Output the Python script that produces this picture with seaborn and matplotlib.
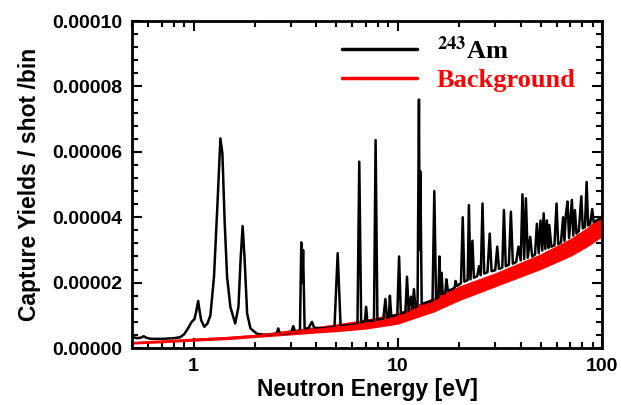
import numpy as np
import pandas as pd
import matplotlib
matplotlib.use('Agg')
import matplotlib.pyplot as plt
import seaborn as sns
from matplotlib.lines import Line2D
from matplotlib.ticker import MultipleLocator, FormatStrFormatter, LogLocator, NullFormatter, FixedLocator

# -=-=-=-=-=- 243Am capture yield (yield in units of 1e-6) -=-=-=-=-=-

am_energy = [
    0.50, 0.53, 0.555, 0.57, 0.59, 0.62, 0.70, 0.80, 0.86, 0.90, 0.94, 0.975, 0.99, 1.01,
    1.03, 1.054, 1.07, 1.09, 1.13, 1.17, 1.21, 1.26, 1.31, 1.354, 1.385, 1.42, 1.46, 1.515,
    1.60, 1.66, 1.70, 1.74, 1.78, 1.83, 1.90, 2.05, 2.3, 2.55, 2.6, 2.65, 3.0, 3.08, 3.15,
    3.32, 3.37, 3.41, 3.44, 3.50, 3.65, 3.8, 3.9, 4.3, 4.9, 5.08, 5.25, 5.8, 6.35, 6.48,
    6.62, 6.9, 7.0, 7.1, 7.65, 7.79, 7.95, 8.5, 8.7, 8.85, 9.05, 9.15, 9.3, 9.95, 10.15,
    10.35, 10.9, 11.1, 11.3, 11.6, 11.8, 12.0, 12.2, 12.5, 12.7, 12.8, 12.9, 13.1, 14.0,
    14.8, 15.1, 15.4, 15.8, 16.0, 16.2, 16.4, 16.6, 17.1, 17.3, 17.6, 18.5, 19.0, 19.2,
    19.5, 20.4, 20.8, 21.2, 22.0, 22.3, 22.7, 23.2, 23.6, 24.5, 25.0, 25.5, 26.0, 26.5,
    27.5, 28.2, 28.8, 30.0, 30.7, 31.3, 32.5, 33.1, 33.8, 35.0, 35.8, 36.6, 38.0, 39.0,
    40.0, 40.8, 41.6, 42.4, 43.3, 44.5, 45.5, 47.0, 48.0, 49.0, 50.0, 51.0, 51.8, 52.8,
    53.7, 54.7, 55.2, 56.5, 58.5, 59.9, 61.0, 63.0, 64.5, 65.5, 66.5, 67.8, 69.0, 71.2,
    72.3, 73.7, 75.0, 77.0, 79.2, 80.5, 82.5, 84.1, 85.5, 87.5, 89.6, 91.0, 95.0, 100.0,
]
am_yield = [
    3.4, 3.0, 3.2, 3.6, 3.1, 2.8, 2.8, 3.0, 3.3, 4.2, 6.0, 7.8, 8.3, 8.8,
    11.0, 14.4, 11.5, 8.5, 6.5, 7.5, 10.0, 21.8, 44.0, 64.1, 59.5, 39.0, 21.8, 12.6,
    7.5, 12.6, 27.0, 37.3, 27.0, 10.6, 6.0, 4.3, 4.0, 4.4, 6.0, 4.4, 4.6, 6.7, 4.8,
    5.2, 32.3, 20.0, 30.0, 6.0, 6.0, 8.0, 6.2, 6.0, 6.4, 29.0, 6.8, 7.0, 7.3, 57.0,
    7.8, 8.2, 12.6, 8.2, 8.4, 63.6, 8.6, 9.0, 15.0, 9.3, 9.5, 16.0, 9.6, 10.2, 28.0,
    10.6, 11.0, 21.8, 11.4, 15.7, 12.0, 18.0, 12.4, 13.0, 76.0, 30.0, 54.0, 13.5, 14.0,
    14.5, 48.0, 15.0, 15.5, 28.0, 16.5, 23.0, 16.5, 17.0, 21.0, 17.5, 18.0, 18.5, 20.5,
    19.0, 19.8, 40.0, 20.3, 20.8, 43.7, 21.0, 32.8, 21.5, 22.0, 25.0, 22.3, 44.2, 22.8,
    23.2, 35.0, 23.5, 23.8, 31.0, 24.2, 24.6, 42.2, 25.0, 25.5, 41.7, 25.8, 26.3, 31.0,
    26.8, 47.0, 27.2, 45.8, 27.6, 34.0, 28.0, 28.6, 38.0, 29.0, 39.0, 29.8, 41.2, 30.3,
    39.0, 30.6, 37.6, 31.0, 31.4, 44.2, 31.8, 32.4, 40.0, 32.8, 40.7, 44.8, 33.6, 45.3,
    34.4, 42.2, 35.0, 35.8, 46.4, 36.6, 37.0, 50.8, 37.5, 38.0, 42.5, 38.5, 39.2, 40.0,
]

# -=-=-=-=-=- Background (noisy band: lower / upper edge, units of 1e-6) -=-=-=-=-=-

bg_energy = [0.5, 0.7, 1.0, 1.5, 2.0, 3.0, 4.0, 5.0, 7.0, 10.0, 15.0, 20.0, 30.0, 50.0, 70.0, 85.0, 100.0]
bg_low = [1.2, 1.6, 2.1, 2.6, 3.2, 4.0, 4.6, 5.0, 5.8, 7.3, 11.0, 14.5, 18.7, 24.0, 28.0, 31.0, 34.0]
bg_high = [1.9, 2.4, 3.0, 3.6, 4.2, 5.6, 6.6, 7.4, 8.8, 10.8, 15.5, 19.0, 23.0, 28.8, 33.5, 37.0, 41.0]

scale = 1e-6
am = pd.DataFrame({'E': am_energy, 'Y': np.array(am_yield) * scale})
bg = pd.DataFrame({'E': bg_energy,
                   'low': np.array(bg_low) * scale,
                   'high': np.array(bg_high) * scale})
bg['mid'] = (bg['low'] + bg['high']) / 2

sns.set_style('ticks')
plt.rcParams['font.family'] = ['Liberation Sans', 'DejaVu Sans']
plt.rcParams['font.weight'] = 'bold'
plt.rcParams['mathtext.fontset'] = 'stix'
plt.rcParams['text.color'] = 'black'
plt.rcParams['axes.labelcolor'] = 'black'

fig = plt.figure(figsize=(6.21, 4.05), dpi=100)
ax = fig.add_axes([0.2126, 0.1407, 0.9694 - 0.2126, 0.948 - 0.1407])

sns.lineplot(data=am, x='E', y='Y', ax=ax, color='black', lw=1.8, sort=False, estimator=None)
ax.fill_between(bg['E'], bg['low'], bg['high'], color='#ff0000', lw=0)
sns.lineplot(data=bg, x='E', y='mid', ax=ax, color='#ff0000', lw=1.5, sort=False, estimator=None)

ax.set_xscale('log')
ax.set_xlim(0.5, 100)
ax.set_ylim(0, 0.0001)

ax.xaxis.set_major_locator(FixedLocator([1, 10, 100]))
ax.xaxis.set_major_formatter(FormatStrFormatter('%g'))
ax.xaxis.set_minor_locator(LogLocator(base=10, subs=np.arange(2, 10), numticks=20))
ax.xaxis.set_minor_formatter(NullFormatter())
ax.yaxis.set_major_locator(MultipleLocator(0.00002))
ax.yaxis.set_minor_locator(MultipleLocator(0.000004))
ax.yaxis.set_major_formatter(FormatStrFormatter('%.5f'))

ax.tick_params(which='both', direction='in', top=True, right=True, width=1.5,
               colors='black', labelcolor='black')
ax.tick_params(which='major', length=7, labelsize=14, pad=7)
ax.tick_params(which='minor', length=4)
for lab in ax.get_xticklabels() + ax.get_yticklabels():
    lab.set_fontweight('bold')
for s in ax.spines.values():
    s.set_linewidth(2)
    s.set_color('black')

ax.set_xlabel('Neutron Energy [eV]', fontsize=16.5, fontweight='bold', labelpad=2, color='black')
ax.set_ylabel('Capture Yields / shot /bin', fontsize=16.5, fontweight='bold', labelpad=8, color='black')

handles = [Line2D([], [], color='black', lw=2.5), Line2D([], [], color='#ff0000', lw=2.5)]
leg = ax.legend(handles, [r'$^{\mathbf{243}}$Am', 'Background'],
                loc='upper left', bbox_to_anchor=(0.447, 0.955), frameon=False,
                borderpad=0, borderaxespad=0, handlelength=2.85, handletextpad=0.75,
                labelspacing=0.2,
                prop={'family': 'Liberation Serif', 'weight': 'bold', 'size': 19})
leg.get_texts()[1].set_color('#ff0000')

fig.savefig('out.png', dpi=100)
